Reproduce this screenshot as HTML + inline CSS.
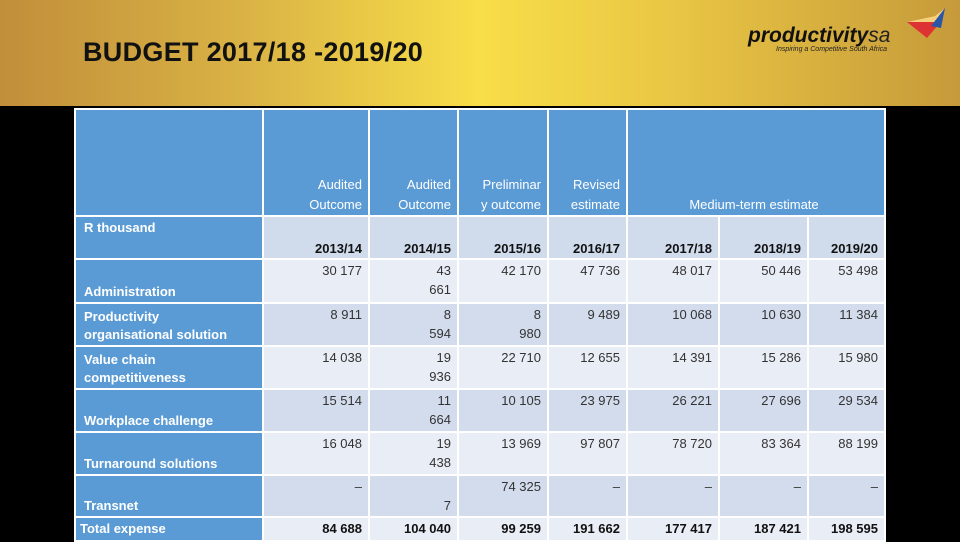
<!DOCTYPE html>
<html><head><meta charset="utf-8"><style>
*{margin:0;padding:0;box-sizing:border-box}
body{width:960px;height:540px;background:#000;position:relative;overflow:hidden;font-family:"Liberation Sans",Arial,sans-serif}
#hdr{position:absolute;left:0;top:0;width:960px;height:106px;background:linear-gradient(90deg,#c18e3a 0%,#d9b245 25%,#f8de48 50%,#e9c644 70%,#c69a3a 100%)}
#title{position:absolute;left:83px;top:37px;font-size:27px;font-weight:bold;color:#111;letter-spacing:0.3px}
#logo{position:absolute;left:748px;top:24px;font-size:21px;font-weight:bold;font-style:italic;color:#111}
#logo span{font-weight:normal;color:#222}
#tag{position:absolute;left:776px;top:46px;font-size:7px;font-style:italic;color:#222}
table{position:absolute;left:74px;top:108px;border-collapse:collapse;table-layout:fixed}
td{border:2px solid #fff;font-size:13px;color:#333;text-align:right;vertical-align:top;padding:1px 6px 0 2px;line-height:19px;overflow:hidden}
tr.h td{background:#5b9bd5;color:#fff;vertical-align:bottom;padding-bottom:0;line-height:20px}
tr.y td{background:#d0dbec;font-weight:bold;color:#111;vertical-align:bottom;padding-bottom:0}
tr.d td{background:#d3dcec}
tr.w td{background:#e9edf5}
tr.t td{font-weight:bold;color:#111;vertical-align:middle;padding-top:0;line-height:18px}
table tr td.l{background:#5b9bd5;color:#fff;font-weight:bold;text-align:left;vertical-align:bottom;padding:0 4px 1px 8px;line-height:18px}
</style></head><body>
<div id="hdr"></div>
<div id="title">BUDGET 2017/18 -2019/20</div>
<div id="logo">productivity<span>sa</span></div>
<div id="tag">Inspiring a Competitive South Africa</div>
<svg style="position:absolute;left:905px;top:8px" width="42" height="34"><path d="M2 14 L30 8 L40 0 L34 16 L22 30 Z" fill="#d33"/><path d="M2 14 L30 8 L40 0 L30 14 Z" fill="#f3d27a"/><path d="M26 18 L40 0 L36 20 Z" fill="#2a56a8"/></svg>
<table>
<colgroup><col style="width:188px"><col style="width:106px"><col style="width:89px"><col style="width:90px"><col style="width:79px"><col style="width:92px"><col style="width:89px"><col style="width:77px"></colgroup>
<tr class="h" style="height:107px"><td class="l"></td><td>Audited<br>Outcome</td><td>Audited<br>Outcome</td><td>Preliminar<br>y outcome</td><td>Revised<br>estimate</td><td colspan="3" style="text-align:center">Medium-term estimate</td></tr>
<tr class="y" style="height:43px"><td class="l" style="vertical-align:top;padding-top:2px">R thousand</td><td>2013/14</td><td>2014/15</td><td>2015/16</td><td>2016/17</td><td>2017/18</td><td>2018/19</td><td>2019/20</td></tr>
<tr class="w" style="height:44px"><td class="l">Administration</td><td>30 177</td><td>43<br>661</td><td>42 170</td><td>47 736</td><td>48 017</td><td>50 446</td><td>53 498</td></tr>
<tr class="d" style="height:43px"><td class="l">Productivity<br>organisational solution</td><td>8 911</td><td>8<br>594</td><td>8<br>980</td><td>9 489</td><td>10 068</td><td>10 630</td><td>11 384</td></tr>
<tr class="w" style="height:43px"><td class="l">Value chain<br>competitiveness</td><td>14 038</td><td>19<br>936</td><td>22 710</td><td>12 655</td><td>14 391</td><td>15 286</td><td>15 980</td></tr>
<tr class="d" style="height:43px"><td class="l">Workplace challenge</td><td>15 514</td><td>11<br>664</td><td>10 105</td><td>23 975</td><td>26 221</td><td>27 696</td><td>29 534</td></tr>
<tr class="w" style="height:43px"><td class="l">Turnaround solutions</td><td>16 048</td><td>19<br>438</td><td>13 969</td><td>97 807</td><td>78 720</td><td>83 364</td><td>88 199</td></tr>
<tr class="d" style="height:42px"><td class="l">Transnet</td><td>–</td><td><br>7</td><td>74 325</td><td>–</td><td>–</td><td>–</td><td>–</td></tr>
<tr class="w t" style="height:24px"><td class="l" style="vertical-align:middle;padding:0 4px 0 4px">Total expense</td><td>84 688</td><td>104 040</td><td>99 259</td><td>191 662</td><td>177 417</td><td>187 421</td><td>198 595</td></tr>
</table>
</body></html>
